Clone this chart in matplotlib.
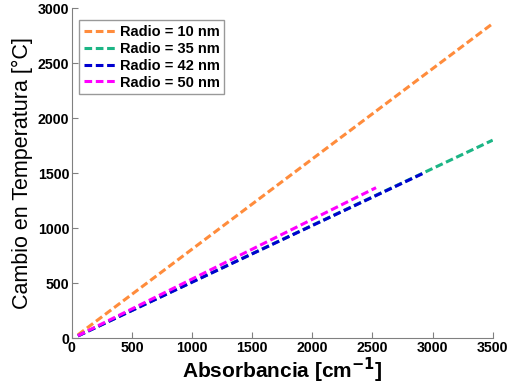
import numpy as np
from matplotlib import pyplot as plt

plt.rcParams['font.family'] = ['Liberation Sans', 'DejaVu Sans']

# endpoints (absorbancia, cambio de temperatura)
abs_10 = [50, 3500]
temp_10 = [30, 2860]
abs_35 = [50, 3500]
temp_35 = [20, 1800]
abs_42 = [50, 2935]
temp_42 = [20, 1505]
abs_50 = [50, 2530]
temp_50 = [22, 1368]

labels = ['Radio = 10 nm', 'Radio = 35 nm', 'Radio = 42 nm', 'Radio = 50 nm']
colors = ['#FF8C3C', '#1CB585', '#0000D0', '#FF00FF']

fig = plt.figure(figsize=(5.1, 3.9), dpi=100)
ax = fig.add_axes([0.141, 0.133, 0.825, 0.846])

series = [(abs_10, temp_10), (abs_35, temp_35), (abs_42, temp_42), (abs_50, temp_50)]
for (x, y), lab, c in zip(series, labels, colors):
    ax.plot(x, y, '--', color=c, lw=2.2, label=lab, dashes=(2.5, 1.2))

ax.set_xlim(0, 3500)
ax.set_ylim(0, 3000)
ax.set_xticks(np.arange(0, 3501, 500))
ax.set_yticks(np.arange(0, 3001, 500))
for s in ['top', 'right']:
    ax.spines[s].set_visible(False)
for s in ['left', 'bottom']:
    ax.spines[s].set_color('#808080')
ax.tick_params(direction='in', length=4, color='#808080', labelsize=10.2, pad=2)
for t in ax.get_xticklabels() + ax.get_yticklabels():
    t.set_fontweight('bold')

ax.set_xlabel('Absorbancia [cm$^{\\mathbf{-1}}$]', fontsize=15, fontweight='bold', labelpad=1)
ax.set_ylabel('Cambio en Temperatura [°C]', fontsize=15.5, labelpad=3)

leg = ax.legend(loc='upper left', prop={'weight': 'bold', 'size': 10.5}, fancybox=False,
                edgecolor='#808080', handlelength=2.2, borderpad=0.3, labelspacing=0.2,
                handletextpad=0.3, bbox_to_anchor=(0.0, 0.985))
leg.get_frame().set_linewidth(1)

fig.savefig('out.png', dpi=100)
